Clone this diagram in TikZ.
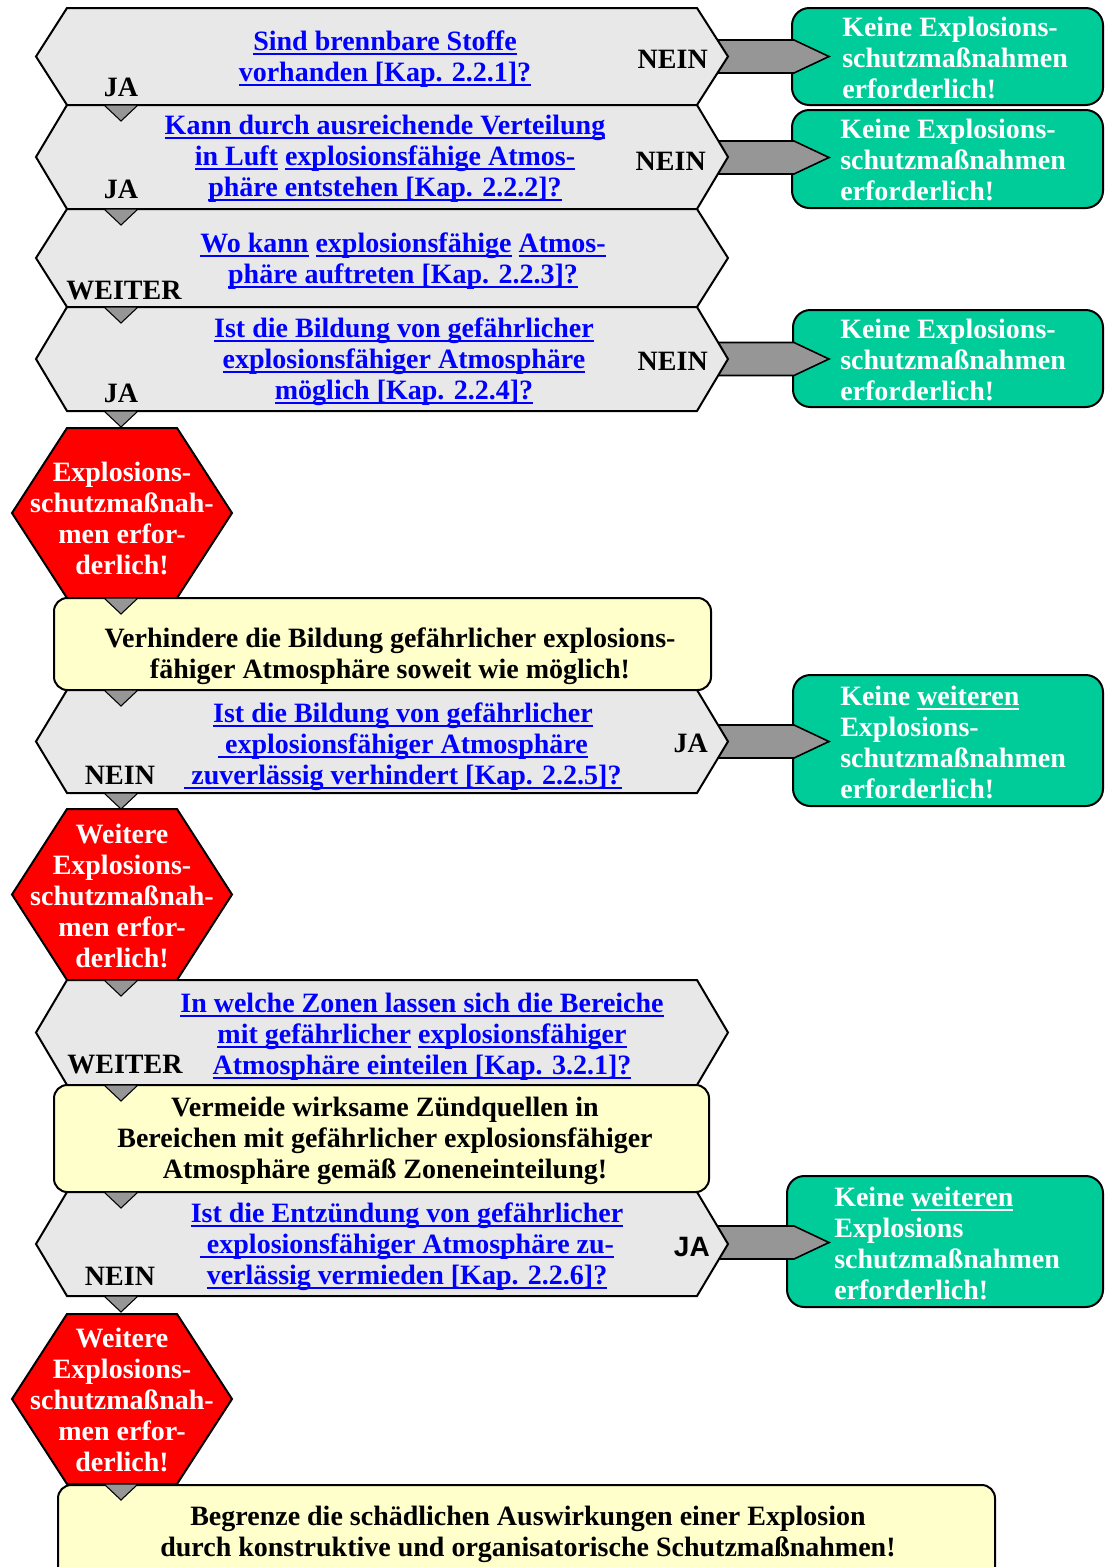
\documentclass[tikz,border=0pt]{standalone}
\usepackage{fontspec}
\setmainfont{Liberation Serif}
\newfontfamily\sansbf{Liberation Sans}
\definecolor{hexgray}{HTML}{E8E8E8}
\definecolor{grn}{HTML}{00CC99}
\definecolor{arrgray}{HTML}{969696}
\definecolor{yel}{HTML}{FFFFCC}
\definecolor{lnkblue}{HTML}{0000FF}
\newcommand\qf{\fontsize{21}{23.25}\selectfont\bfseries}
\newcommand\qstrut{\rule{0pt}{18pt}}
\newcommand\lnk[1]{\setbox0=\hbox{#1}\rlap{\rule[-3.2pt]{\wd0}{1.5pt}}\box0\relax}
\newcommand\ghex[2]{\draw[hexbox] (67,#1) -- (697,#1) -- (728,{(#1+#2)/2}) -- (697,#2) -- (67,#2) -- (36,{(#1+#2)/2}) -- cycle;}
\newcommand\rhex[2]{\draw[redbox] (67,#1) -- (177,#1) -- (232,{(#1+#2)/2}) -- (177,#2) -- (67,#2) -- (12,{(#1+#2)/2}) -- cycle;}
\newcommand\dtri[1]{\draw[downtri] (104,#1) -- (138,#1) -- (121,{#1+16}) -- cycle;}
\newcommand\farrow[1]{\draw[flowarr] (705,{#1-16.5}) -- (794,{#1-16.5}) -- (829,#1) -- (794,{#1+16.5}) -- (705,{#1+16.5}) -- cycle;}
\begin{document}
\begin{tikzpicture}[x=0.75pt,y=-0.75pt,
  box/.style={draw=black,line width=1.5pt,line join=miter},
  hexbox/.style={box,fill=hexgray},
  redbox/.style={box,fill=red},
  yelbox/.style={box,fill=yel,rounded corners=10pt},
  grnbox/.style={box,fill=grn,rounded corners=13pt},
  flowarr/.style={draw=black,line width=1.2pt,fill=arrgray,line join=miter},
  downtri/.style={draw=black,line width=0.8pt,fill=arrgray},
  qtext/.style={anchor=north,inner sep=0pt,align=center,font=\qf,text=lnkblue},
  wtext/.style={anchor=north,inner sep=0pt,align=center,font=\qf,text=white},
  gtext/.style={anchor=north west,inner sep=0pt,align=left,font=\qf,text=white},
  ytext/.style={anchor=north,inner sep=0pt,align=center,font=\qf,text=black},
  lab/.style={anchor=base,inner sep=0pt,font=\qf,text=black},
  rlab/.style={anchor=base east,inner sep=0pt,font=\qf,text=black}]
\useasboundingbox (0,0) rectangle (1105,1567);
\clip (0,0) rectangle (1105,1567);
% green result boxes
\draw[grnbox] (792,8) rectangle (1103,105);
\draw[grnbox] (792,110) rectangle (1103,208);
\draw[grnbox] (793,310) rectangle (1103,407);
\draw[grnbox] (793,675) rectangle (1103,806);
\draw[grnbox] (787,1176) rectangle (1103,1307);
% side arrows
\farrow{56.5}
\farrow{157.5}
\farrow{359}
\farrow{741.5}
\farrow{1242.5}
% main column
\ghex{8}{105}
\ghex{105}{209}
\ghex{209}{307}
\ghex{307}{411}
\rhex{428}{598}
\draw[yelbox] (54,598) rectangle (711,690);
\ghex{690}{793}
\rhex{809}{980}
\ghex{980}{1085}
\draw[yelbox] (54,1085) rectangle (709,1192);
\ghex{1192}{1296}
\rhex{1314}{1484}
\draw[yelbox] (58,1485) rectangle (995,1620);
% down triangles
\foreach \yy in {105,209,307,411,598,690,793,980,1085,1192,1296,1484} {\dtri{\yy}}
% question texts
\node[qtext] (q1) at (385,26) {\qstrut\lnk{Sind brennbare Stoffe}\\\lnk{vorhanden [Kap. 2.2.1]?}};
\node[qtext] (q2) at (385,110) {\qstrut\lnk{Kann durch ausreichende Verteilung}\\\lnk{in Luft} \lnk{explosionsfähige Atmos-}\\\lnk{phäre entstehen [Kap. 2.2.2]?}};
\node[qtext] (q3) at (403,228) {\qstrut\lnk{Wo kann} \lnk{explosionsfähige} \lnk{Atmos-}\\\lnk{phäre auftreten [Kap. 2.2.3]?}};
\node[qtext] (q4) at (404,313) {\qstrut\lnk{Ist die Bildung von gefährlicher}\\\lnk{explosionsfähiger Atmosphäre}\\\lnk{möglich [Kap. 2.2.4]?}};
\node[qtext] (q5) at (403,698) {\qstrut\lnk{Ist die Bildung von gefährlicher}\\\lnk{\ explosionsfähiger Atmosphäre}\\\lnk{\ zuverlässig verhindert [Kap. 2.2.5]?}};
\node[qtext] (q6) at (422,988) {\qstrut\lnk{In welche Zonen lassen sich die Bereiche}\\\lnk{mit gefährlicher} \lnk{explosionsfähiger}\\\lnk{Atmosphäre einteilen [Kap. 3.2.1]?}};
\node[qtext] (q7) at (407,1198) {\qstrut\lnk{Ist die Entzündung von gefährlicher}\\\lnk{\ explosionsfähiger Atmosphäre zu-}\\\lnk{verlässig vermieden [Kap. 2.2.6]?}};
% red texts
\node[wtext] (r1) at (122,457) {\qstrut Explosions-\\schutzmaßnah-\\men erfor-\\derlich!};
\node[wtext] (r2) at (122,819) {\qstrut Weitere\\Explosions-\\schutzmaßnah-\\men erfor-\\derlich!};
\node[wtext] (r3) at (122,1323) {\qstrut Weitere\\Explosions-\\schutzmaßnah-\\men erfor-\\derlich!};
% yellow texts
\node[ytext] (y1) at (390,623) {\qstrut Verhindere die Bildung gefährlicher explosions-\\fähiger Atmosphäre soweit wie möglich!};
\node[ytext] (y2) at (385,1092) {\qstrut Vermeide wirksame Zündquellen in\\Bereichen mit gefährlicher explosionsfähiger\\Atmosphäre gemäß Zoneneinteilung!};
\node[ytext] (y3) at (528,1501) {\qstrut Begrenze die schädlichen Auswirkungen einer Explosion\\durch konstruktive und organisatorische Schutzmaßnahmen!};
% green texts
\node[gtext] (g1) at (842,12) {\qstrut Keine Explosions-\\schutzmaßnahmen\\erforderlich!};
\node[gtext] (g2) at (840,114) {\qstrut Keine Explosions-\\schutzmaßnahmen\\erforderlich!};
\node[gtext] (g3) at (840,314) {\qstrut Keine Explosions-\\schutzmaßnahmen\\erforderlich!};
\node[gtext] (g4) at (840,681) {\qstrut Keine \lnk{weiteren}\\Explosions-\\schutzmaßnahmen\\erforderlich!};
\node[gtext] (g5) at (834,1182) {\qstrut Keine \lnk{weiteren}\\Explosions\\schutzmaßnahmen\\erforderlich!};
% branch labels
\node[lab] (ja1) at (121,96) {JA};
\node[lab] (ja2) at (121,198) {JA};
\node[lab] (we1) at (124,299) {WEITER};
\node[lab] (ja4) at (121,402) {JA};
\node[lab] (ne5) at (120,784) {NEIN};
\node[lab] (we6) at (125,1073) {WEITER};
\node[lab] (ne7) at (120,1285) {NEIN};
\node[rlab] (nr1) at (708,68) {NEIN};
\node[rlab] (nr2) at (706,170) {NEIN};
\node[rlab] (nr4) at (708,370) {NEIN};
\node[rlab] (jr5) at (708,752) {JA};
\node[rlab,font={\qf\sansbf}] (jr7) at (710,1256) {JA};
\end{tikzpicture}
\end{document}
